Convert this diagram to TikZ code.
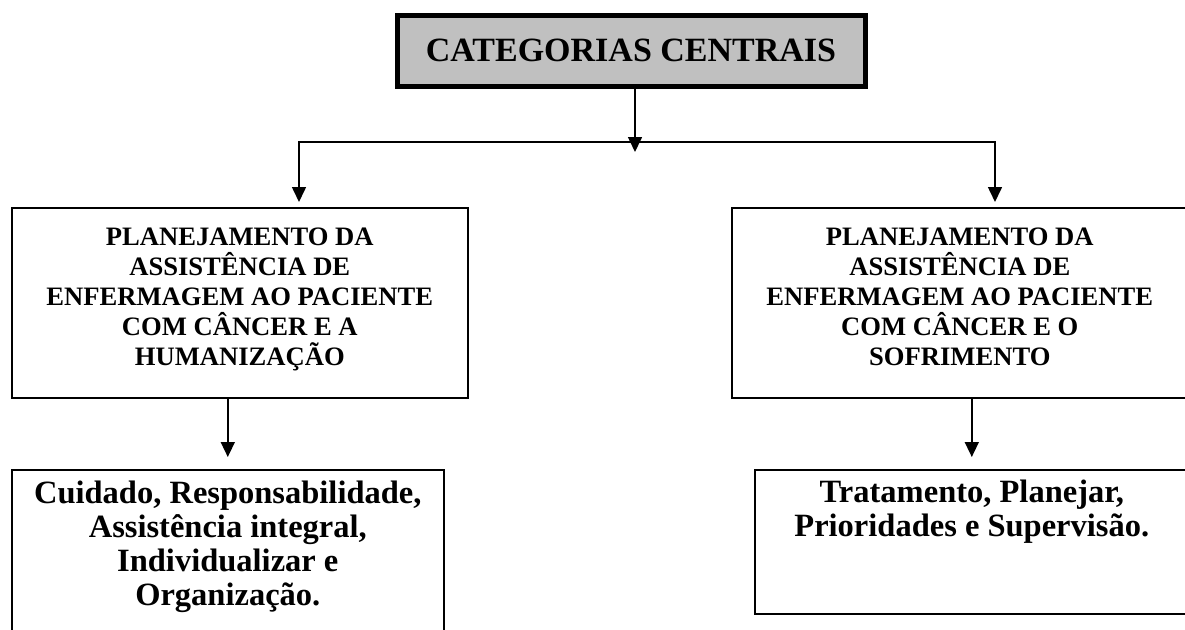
\documentclass[tikz,border=0pt]{standalone}
\usepackage{fontspec}
\setmainfont{Liberation Serif}
\usetikzlibrary{arrows.meta}
\usetikzlibrary{positioning}

\definecolor{titlegray}{RGB}{192,192,192}

\begin{document}
\begin{tikzpicture}[x=1pt,y=-1pt,>={Triangle[length=15pt,width=14pt]},
    box/.style={draw,line width=1.6pt,inner sep=0pt,anchor=north west},
    midtext/.style={font=\fontsize{26.6}{30}\selectfont\bfseries,align=center,inner sep=0pt},
    lowtext/.style={font=\fontsize{32.5}{34}\selectfont\bfseries,align=center,inner sep=0pt},
    link/.style={line width=1.6pt}]

        \useasboundingbox (0,0) rectangle (1185,629);
        \clip (0,0) rectangle (1185,629);

        % title
        \node[box,fill=titlegray,line width=5pt,minimum width=468pt,minimum height=71pt,
            font=\fontsize{34}{40}\selectfont\bfseries] (cat) at (394.5,12.5) {CATEGORIAS CENTRAIS};

        % boxes
        \node[box,minimum width=456pt,minimum height=190pt] (hum) at (11,207) {};
        \node[box,minimum width=470pt,minimum height=190pt] (sof) at (731,207) {};
        \node[box,minimum width=432pt,minimum height=200pt] (cuid) at (11,469) {};
        \node[box,minimum width=450pt,minimum height=144pt] (trat) at (754,469) {};

        % texts
        \node[midtext,below=21pt of hum.north] (humtxt) {PLANEJAMENTO DA\\ASSISTÊNCIA DE\\ENFERMAGEM AO PACIENTE\\COM CÂNCER E A\\HUMANIZAÇÃO};
        \node[midtext,below=21pt of sof.north,xshift=-7pt] (softxt) {PLANEJAMENTO DA\\ASSISTÊNCIA DE\\ENFERMAGEM AO PACIENTE\\COM CÂNCER E O\\SOFRIMENTO};
        \node[lowtext,below=12pt of cuid.north] (cuidtxt) {Cuidado, Responsabilidade,\\Assistência integral,\\Individualizar e\\Organização.};
        \node[lowtext,below=11pt of trat.north,xshift=-8pt] (trattxt) {Tratamento, Planejar,\\Prioridades e Supervisão.};

        % connectors
        \coordinate (mid) at (635,143);
        \coordinate (lft) at (299,142);
        \coordinate (rgt) at (995,142);
        \draw[link,->] (cat.south -| mid) -- ([yshift=-9pt]mid);
        \draw[link,<->,shorten <=5pt,shorten >=5pt] (lft |- hum.north) -- (lft) -- (rgt) -- (rgt |- sof.north);
        \draw[link,->,shorten >=12pt] (hum.south -| cuidtxt.north) -- (cuidtxt.north |- cuid.north);
        \draw[link,->,shorten >=12pt] (sof.south -| trattxt.north) -- (trattxt.north |- trat.north);
    \end{tikzpicture}
\end{document}
